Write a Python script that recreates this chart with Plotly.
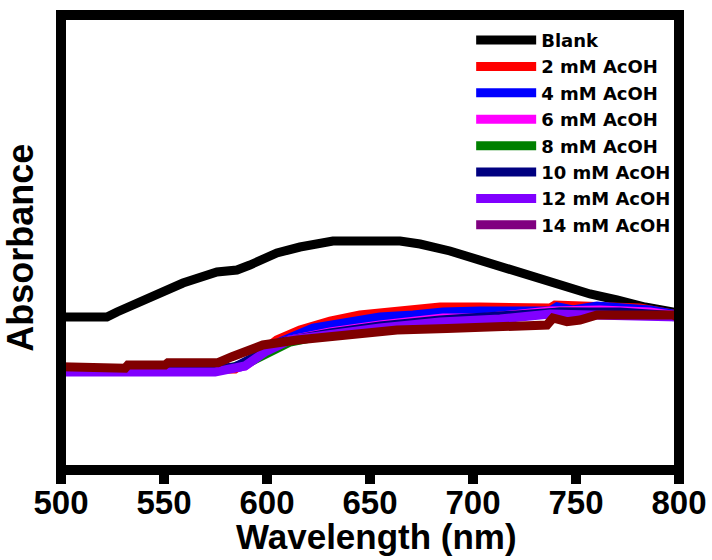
import plotly.graph_objects as go

# ---- data ----
wl_blank = [500, 522.3, 527.2, 543.2, 559.2, 575.7, 585.4, 591.7, 604.8, 616, 624.2, 632, 664.6,
            674.3, 688.8, 703.4, 717.9, 732.5, 743.7, 756.8, 769.9, 783.5, 800]
ab_blank = [0.3289, 0.3289, 0.34, 0.3711, 0.4044, 0.4289, 0.4333, 0.4444, 0.4711, 0.4844, 0.4933, 0.4978, 0.4978,
            0.4911, 0.4756, 0.4556, 0.4333, 0.4111, 0.3956, 0.38, 0.3667, 0.3511, 0.3378]

wl_2 = [500, 567.5, 584.5, 595.1, 604.8, 616, 630.6, 645.1, 664.6, 684, 703.4, 737.4, 739.8, 761.6, 781, 800]
ab_2 = [0.2089, 0.2089, 0.2133, 0.2444, 0.2778, 0.3, 0.32, 0.3333, 0.3422, 0.3511, 0.3511, 0.3489, 0.3556, 0.3533, 0.3489, 0.3333]

wl_4 = [500, 572.3, 586.9, 596.6, 606.3, 622.3, 638.8, 654.8, 670.9, 685.4, 703.4, 737.4, 740.8, 748.5, 760.2, 769.9, 785.9, 800]
ab_4 = [0.2089, 0.2089, 0.2178, 0.2467, 0.2733, 0.3044, 0.3178, 0.3289, 0.3333, 0.34, 0.3422, 0.3422, 0.3518, 0.3444, 0.3533, 0.3518, 0.3444, 0.3333]

wl_6 = [500, 574.8, 589.3, 597.6, 608.7, 630.6, 654.8, 670.9, 685.4, 703.4, 737.4, 761.6, 785.9, 800]
ab_6 = [0.2089, 0.2089, 0.22, 0.2467, 0.2756, 0.2956, 0.3111, 0.3178, 0.3267, 0.3267, 0.3422, 0.3444, 0.34, 0.3311]

wl_8 = [500, 567.5, 582, 591.7, 601.4, 611.2, 630.6, 654.8, 684, 713.1, 742.2, 771.3, 800]
ab_8 = [0.2089, 0.2111, 0.2156, 0.2289, 0.2511, 0.2733, 0.2911, 0.3067, 0.32, 0.3267, 0.34, 0.3378, 0.3289]

wl_10 = [500, 567.5, 584.5, 596.6, 608.7, 630.6, 654.8, 684, 713.1, 742.2, 771.3, 800]
ab_10 = [0.2089, 0.2111, 0.2178, 0.2467, 0.2756, 0.2933, 0.3089, 0.3222, 0.3289, 0.34, 0.34, 0.3311]

wl_12 = [500, 574.8, 589.3, 599, 611.2, 630.6, 654.8, 684, 713.1, 737.4, 761.6, 785.9, 800]
ab_12 = [0.2067, 0.2067, 0.22, 0.2511, 0.2778, 0.2911, 0.3044, 0.3178, 0.3244, 0.3356, 0.3311, 0.3289, 0.3289]

wl_14 = [500, 511.6, 513.1, 531.1, 532.5, 550.5, 551.9, 576.2, 583, 598, 614.6, 630.6, 646.6, 663.1,
         687.4, 708.2, 735.9, 738.8, 745.6, 751.9, 760.2, 797.1, 800]
ab_14 = [0.2184, 0.2184, 0.2149, 0.2149, 0.2222, 0.2222, 0.2273, 0.2273, 0.2407, 0.2667, 0.2778, 0.2851, 0.294, 0.3,
         0.3033, 0.3067, 0.3111, 0.3267, 0.3184, 0.3222, 0.3333, 0.3333, 0.3267]

x_ticks = [500, 550, 600, 650, 700, 750, 800]

series = [
    ("Blank", wl_blank, ab_blank, "#000000"),
    ("2 mM AcOH", wl_2, ab_2, "#ff0000"),
    ("4 mM AcOH", wl_4, ab_4, "#0000ff"),
    ("6 mM AcOH", wl_6, ab_6, "#ff00ff"),
    ("8 mM AcOH", wl_8, ab_8, "#008000"),
    ("10 mM AcOH", wl_10, ab_10, "#000080"),
    ("12 mM AcOH", wl_12, ab_12, "#8000ff"),
]

fig = go.Figure()
for name, x, y, c in series:
    fig.add_trace(go.Scatter(x=x, y=y, mode="lines", name=name,
                             line=dict(color=c, width=9)))
# 14 mM curve (drawn maroon on top), legend entry shown in purple as in the reference
fig.add_trace(go.Scatter(x=wl_14, y=ab_14, mode="lines", name="14 mM AcOH",
                         line=dict(color="#800000", width=9), showlegend=False))
fig.add_trace(go.Scatter(x=[None], y=[None], mode="lines", name="14 mM AcOH",
                         line=dict(color="#800080", width=9)))

fig.update_layout(
    width=712, height=560,
    margin=dict(l=61, r=33, t=15, b=90, autoexpand=False),
    paper_bgcolor="white", plot_bgcolor="white",
    showlegend=True,
    legend=dict(x=0.6637, y=0.985, xanchor="left", yanchor="top",
                bgcolor="rgba(0,0,0,0)", itemwidth=60,
                font=dict(family="DejaVu Sans", size=18, color="black", weight="bold"),
                tracegroupgap=0),
    xaxis=dict(range=[500, 800], tickvals=x_ticks, ticktext=[str(v) for v in x_ticks],
               ticks="outside", ticklen=13, tickwidth=10, tickcolor="black",
               ticklabelstandoff=-10,
               showline=False, showgrid=False, zeroline=False, automargin=False,
               tickfont=dict(family="Liberation Sans", size=33,
                             color="black", weight="bold")),
    yaxis=dict(range=[-0.0111, 1.0], showticklabels=False, ticks="",
               showline=False, showgrid=False, zeroline=False, automargin=False),
    shapes=[dict(type="rect", xref="paper", yref="paper", x0=0, x1=1, y0=0, y1=1,
                 line=dict(color="black", width=10), layer="above")],
    annotations=[
        dict(text="Wavelength (nm)", xref="paper", yref="paper", x=0.51, y=-0.147,
             xanchor="center", yanchor="middle", showarrow=False,
             font=dict(family="Liberation Sans", size=35, color="black", weight="bold")),
        dict(text="Absorbance", xref="paper", yref="paper", x=-0.066, y=0.489,
             xanchor="center", yanchor="middle", showarrow=False, textangle=-90,
             font=dict(family="Liberation Sans", size=36, color="black", weight="bold")),
    ],
)

fig.write_html("out.html")
